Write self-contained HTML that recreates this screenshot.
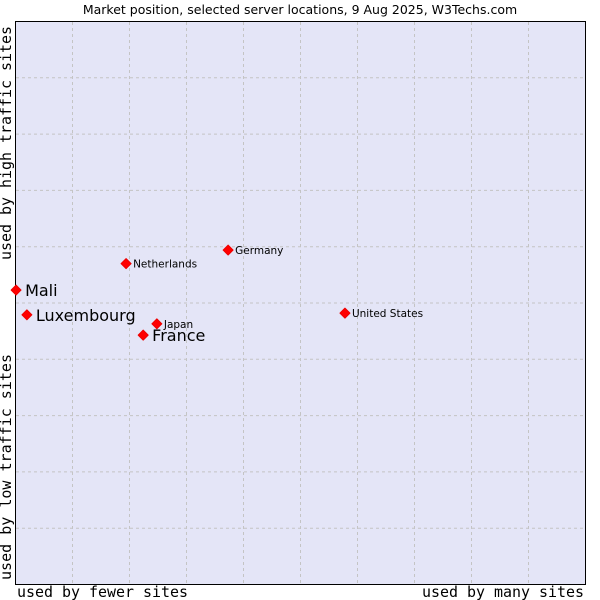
<!DOCTYPE html>
<html><head><meta charset="utf-8"><style>
body{margin:0;background:#fff;width:600px;height:600px;overflow:hidden}
svg{display:block}
</style></head><body>
<svg id="chart" width="600" height="600">
<text x="300" y="14" text-anchor="middle" font-family="DejaVu Sans, sans-serif" font-size="12.5" fill="#000">Market position, selected server locations, 9 Aug 2025, W3Techs.com</text>
<rect x="15.5" y="21.5" width="570" height="563" fill="#e4e5f7" stroke="#000" stroke-width="1"/>
<g id="grid"></g>
<g id="points"></g>
<text x="11" y="143" transform="rotate(-90 11 143)" text-anchor="middle" font-family="DejaVu Sans Mono, Liberation Mono, monospace" font-size="15" textLength="234" lengthAdjust="spacingAndGlyphs">used by high traffic sites</text>
<text x="11" y="467" transform="rotate(-90 11 467)" text-anchor="middle" font-family="DejaVu Sans Mono, Liberation Mono, monospace" font-size="15" textLength="226" lengthAdjust="spacingAndGlyphs">used by low traffic sites</text>
<text x="17" y="597" font-family="DejaVu Sans Mono, Liberation Mono, monospace" font-size="15" textLength="171" lengthAdjust="spacingAndGlyphs">used by fewer sites</text>
<text x="584" y="597" text-anchor="end" font-family="DejaVu Sans Mono, Liberation Mono, monospace" font-size="15" textLength="162" lengthAdjust="spacingAndGlyphs">used by many sites</text>
</svg>
<script>
const names=["Mali","Luxembourg","France","Japan","Netherlands","Germany","United States"];
const xVals=[0.1,2.0,22.4,24.8,19.4,37.3,57.8];
const yVals=[52.3,47.9,44.3,46.3,57.0,59.4,48.2];
const big=[true,true,true,false,false,false,false];
const ns="http://www.w3.org/2000/svg";
const X0=15.5,W=570,Y0=584.5,H=563;
const sx=v=>X0+v/100*W, sy=v=>Y0-v/100*H;
const grid=document.getElementById('grid');
for(let i=1;i<10;i++){
 const l=document.createElementNS(ns,'line');
 l.setAttribute('x1',sx(i*10));l.setAttribute('x2',sx(i*10));l.setAttribute('y1',22);l.setAttribute('y2',584);
 l.setAttribute('stroke','#c4c4c4');l.setAttribute('stroke-dasharray','3,3');
 
 
 grid.appendChild(l);
 const h=document.createElementNS(ns,'line');
 h.setAttribute('y1',sy(i*10));h.setAttribute('y2',sy(i*10));h.setAttribute('x1',16);h.setAttribute('x2',585);
 h.setAttribute('stroke','#c4c4c4');h.setAttribute('stroke-dasharray','3,3');
 
 
 grid.appendChild(h);
}
const pts=document.getElementById('points');
names.forEach((n,i)=>{
 const x=sx(xVals[i]),y=sy(yVals[i]);
 const d=document.createElementNS(ns,'polygon');
 d.setAttribute('points',`${x},${y-5} ${x+5},${y} ${x},${y+5} ${x-5},${y}`);
 d.setAttribute('fill','#f00');
 d.setAttribute('stroke','#e00');
 d.setAttribute('stroke-width','1');
 d.setAttribute('stroke-linejoin','round');
 
 
 pts.appendChild(d);
 const t=document.createElementNS(ns,'text');
 t.setAttribute('x',x+(big[i]?9:7));t.setAttribute('y',y+(big[i]?6:4));
 t.setAttribute('font-family','DejaVu Sans, sans-serif');
 t.setAttribute('font-size',big[i]?16:10.5);
 t.setAttribute('fill','#000');
 t.textContent=n;
 
 
 pts.appendChild(t);
});
</script>
</body></html>
